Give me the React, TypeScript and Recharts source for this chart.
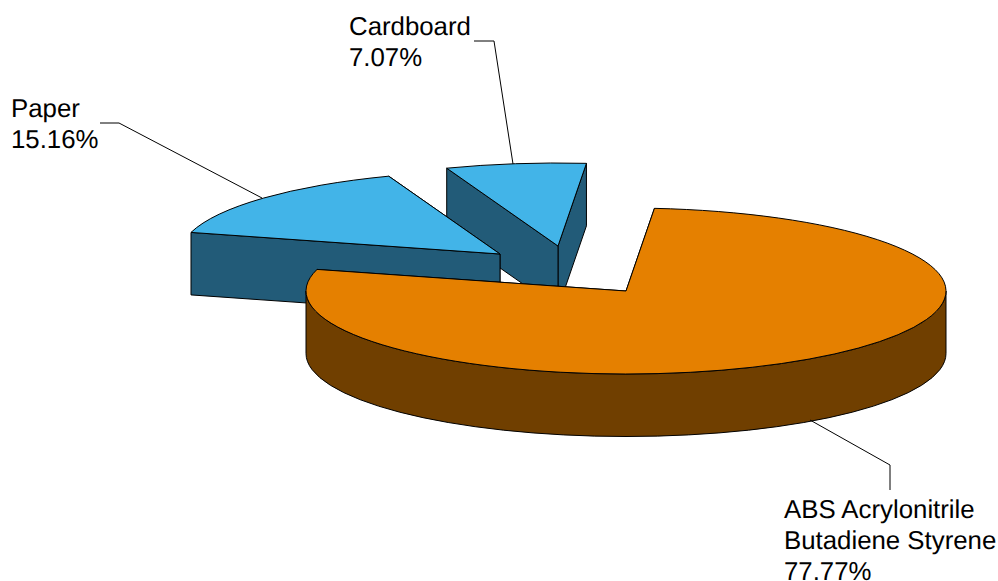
import { PieChart, Pie } from "recharts";

const materials = ["Cardboard", "Paper", "ABS Acrylonitrile Butadiene Styrene"];
const shares = [7.07, 15.16, 77.77];
const labelLines = [["Cardboard"], ["Paper"], ["ABS Acrylonitrile", "Butadiene Styrene"]];

const pieData = materials.map((name, i) => ({ name, value: shares[i] }));

// pie is tilted, so the circle recharts gives us is squashed to this height
const squash = 83 / 320;
const depth = 62.5;

const explode = [
    { dx: -68, dy: -45 },
    { dx: -126, dy: -37 },
    { dx: 0, dy: 0 },
];
const topColors = ["#42b4e8", "#42b4e8", "#e58000"];
const sideColors = ["#225b78", "#225b78", "#703f00"];

const labelPos = [
    { x: 349, y: 35, line: [[474, 41], [494, 41], [513, 164]] },
    { x: 11, y: 117, line: [[100, 123], [119, 123], [262, 198]] },
    { x: 784, y: 518, line: [[810, 420], [890, 465], [890, 490]] },
];

const rad = (a: number) => (a * Math.PI) / 180;

function Slice3D(props: any) {
    const { cx, cy, outerRadius: r, startAngle, endAngle, name } = props;
    const i = materials.indexOf(name);
    const ox = cx + explode[i].dx;
    const oy = cy + explode[i].dy;
    const ry = r * squash;
    const px = (a: number) => ox + r * Math.cos(rad(a));
    const py = (a: number) => oy - ry * Math.sin(rad(a));
    const arc = (a: number, b: number, sweep: number, yOff = 0) =>
        `A${r} ${ry} 0 ${Math.abs(b - a) > 180 ? 1 : 0} ${sweep} ${px(b)} ${py(b) + yOff}`;

    const wall = (a: number) =>
        `M${ox} ${oy}L${px(a)} ${py(a)}L${px(a)} ${py(a) + depth}L${ox} ${oy + depth}Z`;

    // outer rim only shows on the front half of the ellipse
    const rims: string[] = [];
    [-360, 0, 360].forEach((k) => {
        const a = Math.max(startAngle, 180 + k);
        const b = Math.min(endAngle, 360 + k);
        if (b > a) {
            rims.push(
                `M${px(a)} ${py(a)}${arc(a, b, 0)}L${px(b)} ${py(b) + depth}${arc(b, a, 1, depth)}Z`
            );
        }
    });

    const top = `M${ox} ${oy}L${px(startAngle)} ${py(startAngle)}${arc(startAngle, endAngle, 0)}Z`;
    const edge = { stroke: "#000", strokeWidth: 1, strokeLinejoin: "round" as const };

    return (
        <g>
            <path d={wall(startAngle)} fill={sideColors[i]} {...edge} />
            <path d={wall(endAngle)} fill={sideColors[i]} {...edge} />
            {rims.map((d) => (
                <path key={d} d={d} fill={sideColors[i]} {...edge} />
            ))}
            <path d={top} fill={topColors[i]} {...edge} />
        </g>
    );
}

function SliceLabel(props: any) {
    const i = materials.indexOf(props.name);
    const pos = labelPos[i];
    const lines = [...labelLines[i], `${shares[i].toFixed(2)}%`];
    return (
        <g>
            <polyline
                points={pos.line.map((p) => p.join(",")).join(" ")}
                fill="none"
                stroke="#000"
                strokeWidth={1}
            />
            {lines.map((t, n) => (
                <text
                    key={t}
                    x={pos.x}
                    y={pos.y + n * 31}
                    fill="#000"
                    fontFamily="'Liberation Sans', Arial, sans-serif"
                    fontSize={25.8}
                    textRendering="geometricPrecision"
                >
                    {t}
                </text>
            ))}
        </g>
    );
}

export default function App() {
    return (
        <div style={{ position: "absolute", left: 0, top: 0, width: 998, height: 581, background: "#fff" }}>
            <PieChart width={998} height={581} margin={{ top: 0, right: 0, bottom: 0, left: 0 }}>
                <Pie
                    data={pieData}
                    dataKey="value"
                    nameKey="name"
                    cx={626}
                    cy={291}
                    innerRadius={0}
                    outerRadius={320}
                    startAngle={84.9}
                    endAngle={444.9}
                    stroke="none"
                    shape={Slice3D}
                    label={SliceLabel}
                    labelLine={false}
                    isAnimationActive={false}
                />
            </PieChart>
        </div>
    );
}
